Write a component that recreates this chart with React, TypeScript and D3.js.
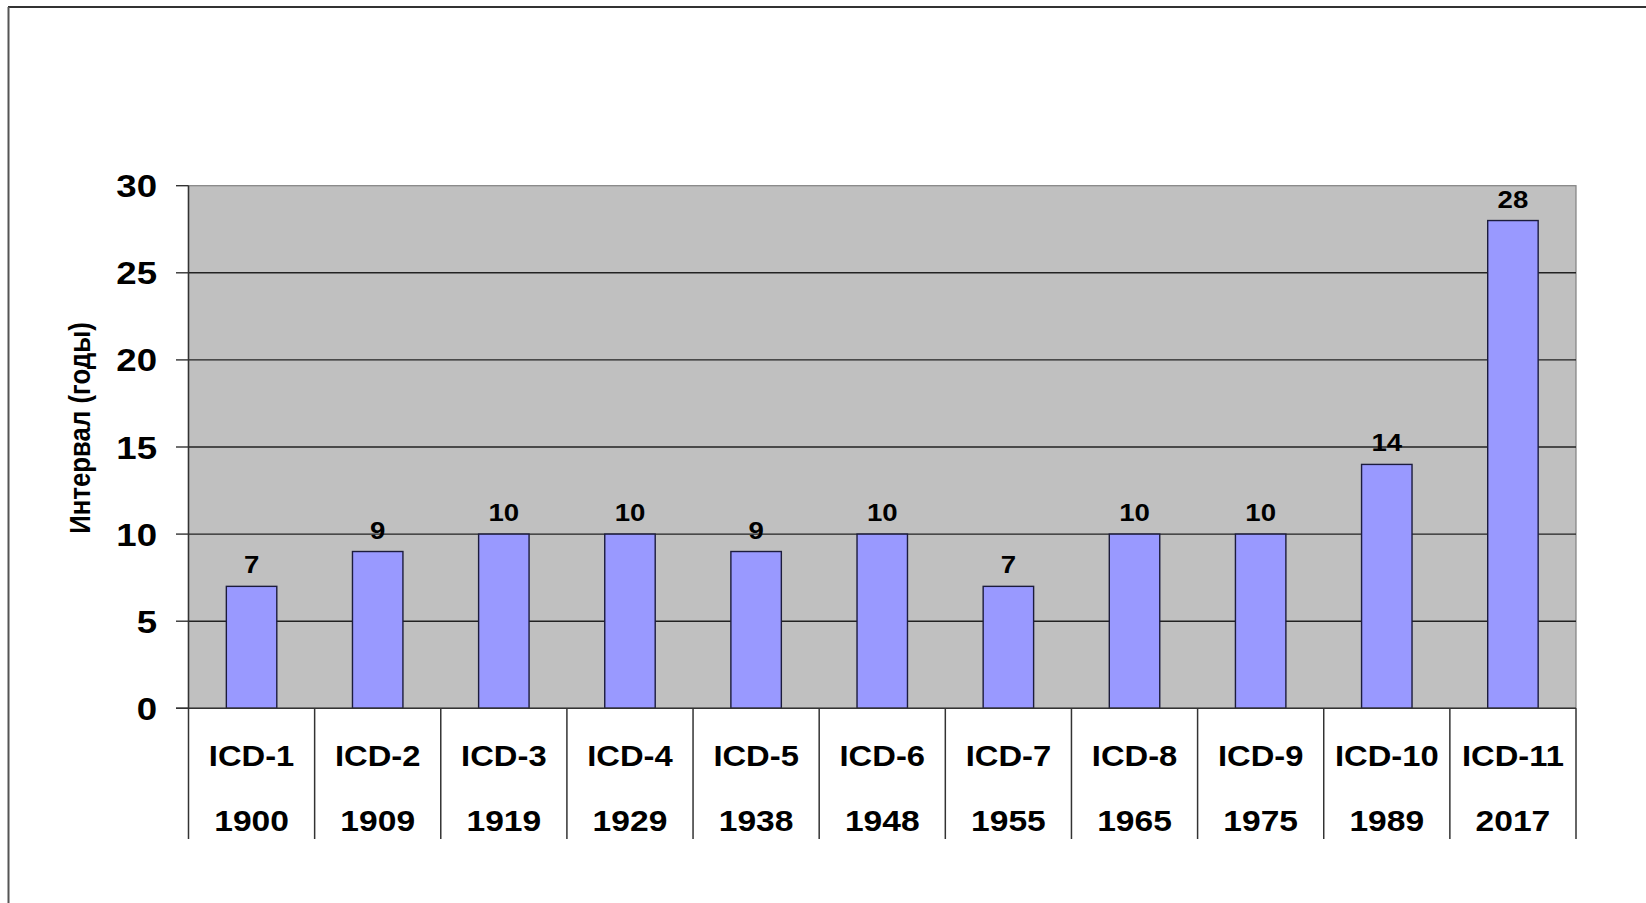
import React from 'react';
import * as d3 from 'd3';

const categories = ['ICD-1', 'ICD-2', 'ICD-3', 'ICD-4', 'ICD-5', 'ICD-6', 'ICD-7', 'ICD-8', 'ICD-9', 'ICD-10', 'ICD-11'];
const years = ['1900', '1909', '1919', '1929', '1938', '1948', '1955', '1965', '1975', '1989', '2017'];
const intervals = [7, 9, 10, 10, 9, 10, 7, 10, 10, 14, 28];
const yTicks = [0, 5, 10, 15, 20, 25, 30];
const yTitle = 'Интервал (годы)';

const W = 1646;
const H = 903;
const left = 188.5;
const right = 1576;
const top = 185.7;
const bottom = 708.3;
const font = 'Arial, "Liberation Sans", sans-serif';

export default function App() {
  const x = d3.scaleBand<string>().domain(categories).range([left, right]).padding(0);
  const y = d3.scaleLinear().domain([0, 30]).range([bottom, top]);
  const bw = x.bandwidth() * 0.4;
  const bounds = categories.map((c) => x(c) as number).concat([right]);

  return (
    <svg width={W} height={H} style={{ position: 'absolute', left: 0, top: 0, background: '#fff' }}>
      {/* page frame */}
      <line x1={8} x2={W} y1={7} y2={7} stroke="#333" strokeWidth={2} />
      <line x1={8.5} x2={8.5} y1={7} y2={H} stroke="#555" strokeWidth={2} />

      {/* plot area */}
      <rect x={left} y={top} width={right - left} height={bottom - top} fill="#c0c0c0" stroke="#808080" strokeWidth={1.2} />
      {yTicks.map((t) => (
        <g key={t}>
          {t > 0 && t < 30 && (
            <line x1={left} x2={right} y1={y(t)} y2={y(t)} stroke="#222" strokeWidth={1.4} />
          )}
          <line x1={176} x2={left} y1={y(t)} y2={y(t)} stroke="#333" strokeWidth={1.4} />
          <text
            transform={`translate(157,${y(t) + 11.5}) scale(1.2,1)`}
            textAnchor="end"
            fontFamily={font}
            fontWeight="bold"
            fontSize={30.5}
            fill="#000"
          >
            {t}
          </text>
        </g>
      ))}
      <line x1={left} x2={left} y1={top} y2={bottom} stroke="#333" strokeWidth={1.5} />

      {/* bars */}
      {intervals.map((v, i) => {
        const cx = (x(categories[i]) as number) + x.bandwidth() / 2;
        return (
          <g key={categories[i]}>
            <rect x={cx - bw / 2} y={y(v)} width={bw} height={bottom - y(v)} fill="#9999ff" stroke="#1c1c3c" strokeWidth={1.4} />
            <text
              transform={`translate(${cx},${y(v) - 13}) scale(1.15,1)`}
              textAnchor="middle"
              fontFamily={font}
              fontWeight="bold"
              fontSize={24}
              fill="#000"
            >
              {v}
            </text>
          </g>
        );
      })}
      <line x1={176} x2={right} y1={bottom} y2={bottom} stroke="#333" strokeWidth={1.5} />

      {/* category table */}
      {bounds.map((b, i) => (
        <line key={i} x1={b} x2={b} y1={bottom} y2={839} stroke="#333" strokeWidth={1.5} />
      ))}
      {categories.map((c, i) => {
        const cx = (x(c) as number) + x.bandwidth() / 2;
        return (
          <g key={c}>
            <text
              transform={`translate(${cx},766) scale(1.11,1)`}
              textAnchor="middle"
              fontFamily={font}
              fontWeight="bold"
              fontSize={29.5}
              fill="#000"
            >
              {c}
            </text>
            <text
              transform={`translate(${cx},831) scale(1.12,1)`}
              textAnchor="middle"
              fontFamily={font}
              fontWeight="bold"
              fontSize={30}
              fill="#000"
            >
              {years[i]}
            </text>
          </g>
        );
      })}

      {/* y title */}
      <text
        transform="translate(90,428) scale(1.12,1) rotate(-90)"
        textAnchor="middle"
        fontFamily={font}
        fontWeight="bold"
        fontSize={25.8}
        fill="#000"
      >
        {yTitle}
      </text>
    </svg>
  );
}
